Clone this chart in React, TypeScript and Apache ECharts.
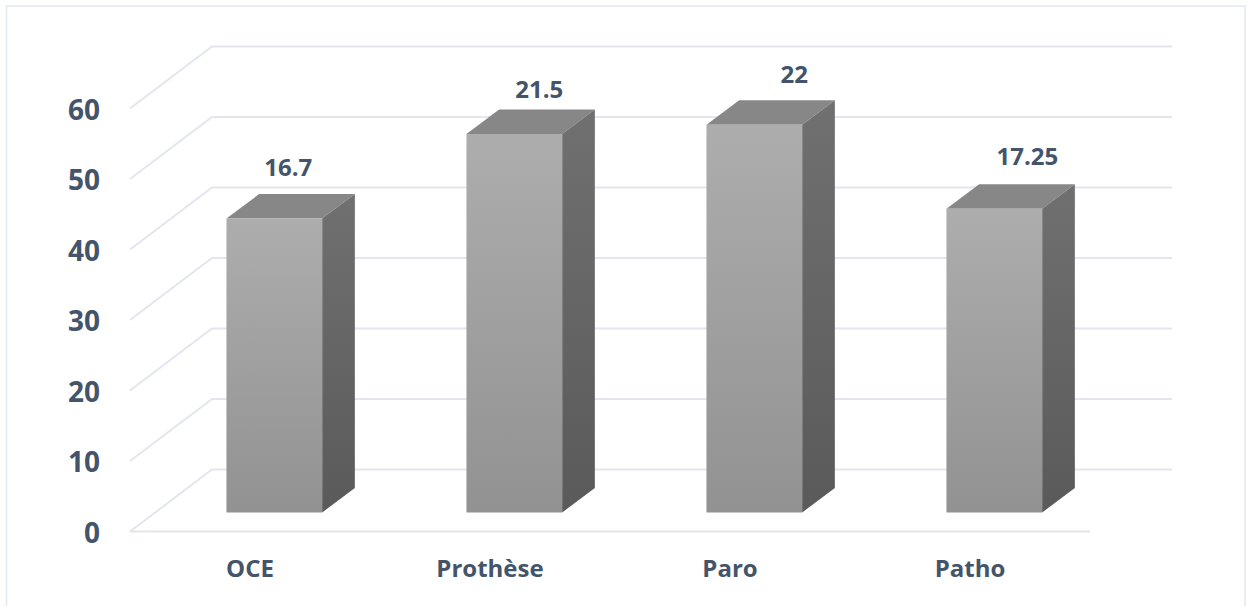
import React, { useEffect, useRef } from "react";
import * as echarts from "echarts";

const categories = ["OCE", "Prothèse", "Paro", "Patho"];
const barValues = [41.7, 53.7, 55, 43.1];
const barLabels = ["16.7", "21.5", "22", "17.25"];
const ticks = [0, 10, 20, 30, 40, 50, 60];

// layout constants (pixels)
const WALL_DX = 82;
const WALL_DY = 62;
const BAR_SHIFT_X = 24.3;
const BAR_SHIFT_Y = 19;
const BAR_W = 95.7;
const BAR_DX = 32.7;
const BAR_DY = 24.5;
const labelNudgeX = [14, 25, 40, 33];
const labelNudgeY = [-28, -21, -27, -29];

const TEXT = "#44546a";
const GRID = "#e3e6ee";
const FONT = "'Open Sans', sans-serif";

export default function App() {
  const ref = useRef<HTMLDivElement>(null);
  useEffect(() => {
    const chart = echarts.init(ref.current!, null, { renderer: "svg" });
    const lg = (a: string, b: string) =>
      new echarts.graphic.LinearGradient(0, 0, 0, 1, [
        { offset: 0, color: a },
        { offset: 1, color: b },
      ]);
    chart.setOption({
      animation: false,
      backgroundColor: "#ffffff",
      grid: { left: 130, right: 158, top: 108.5, bottom: 74.5, containLabel: false },
      graphic: [
        {
          type: "rect",
          silent: true,
          shape: { x: 6.5, y: 6, width: 1238.5, height: 640 },
          style: { fill: "none", stroke: "#e4e8ef", lineWidth: 1.5 },
        },
      ],
      xAxis: {
        type: "category",
        data: categories,
        axisLine: { show: false },
        axisTick: { show: false },
        axisLabel: { color: TEXT, fontFamily: FONT, fontWeight: "bold", fontSize: 24, margin: 24 },
      },
      yAxis: {
        type: "value",
        min: 0,
        max: 60,
        interval: 10,
        splitLine: { show: false },
        axisLine: { show: false },
        axisTick: { show: false },
        axisLabel: {
          color: TEXT,
          fontFamily: FONT,
          fontWeight: "bold",
          fontSize: 28,
          margin: 30,
          padding: [2, 0, 0, 0],
        },
      },
      series: [
        {
          type: "custom",
          silent: true,
          z: 1,
          data: ticks.map((t) => [0, t]),
          encode: { y: 1 },
          renderItem: (params: any, api: any) => {
            const y = api.coord([0, api.value(1)])[1];
            const x0 = params.coordSys.x;
            const x1 = x0 + params.coordSys.width;
            const lineStyle = { stroke: GRID, lineWidth: 2, fill: "none" };
            const isFloor = api.value(1) === 0;
            return {
              type: "group",
              children: [
                {
                  type: "polyline",
                  shape: { points: [[x0, y], [x0 + WALL_DX, y - WALL_DY], [x1 + WALL_DX, y - WALL_DY]] },
                  style: lineStyle,
                },
                ...(isFloor
                  ? [{ type: "line", shape: { x1: x0, y1: y, x2: x1, y2: y }, style: lineStyle }]
                  : []),
              ],
            };
          },
        },
        {
          type: "custom",
          silent: true,
          z: 2,
          data: barValues.map((v, i) => [i, v]),
          encode: { x: 0, y: 1 },
          renderItem: (_params: any, api: any) => {
            const i = api.value(0);
            const [cx, topRaw] = api.coord([i, api.value(1)]);
            const base = api.coord([i, 0])[1] - BAR_SHIFT_Y;
            const top = topRaw - BAR_SHIFT_Y;
            const l = cx + BAR_SHIFT_X - BAR_W / 2;
            const r = l + BAR_W;
            return {
              type: "group",
              children: [
                {
                  type: "polygon",
                  shape: { points: [[l, top], [r, top], [r + BAR_DX, top - BAR_DY], [l + BAR_DX, top - BAR_DY]] },
                  style: { fill: "#878787" },
                },
                {
                  type: "polygon",
                  shape: { points: [[r, top], [r + BAR_DX, top - BAR_DY], [r + BAR_DX, base - BAR_DY], [r, base]] },
                  style: { fill: lg("#707070", "#5a5a5a") },
                },
                {
                  type: "rect",
                  shape: { x: l, y: top, width: BAR_W, height: base - top },
                  style: { fill: lg("#adadad", "#929292") },
                },
                {
                  type: "text",
                  x: l + BAR_W / 2 + labelNudgeX[i],
                  y: top - BAR_DY + labelNudgeY[i],
                  style: {
                    text: barLabels[i],
                    fill: TEXT,
                    fontFamily: FONT,
                    fontWeight: "bold",
                    fontSize: 24,
                    align: "center",
                    verticalAlign: "middle",
                  },
                },
              ],
            };
          },
        },
      ],
    });
    return () => chart.dispose();
  }, []);
  return <div ref={ref} style={{ position: "fixed", left: 0, top: 0, width: 1248, height: 606 }} />;
}
